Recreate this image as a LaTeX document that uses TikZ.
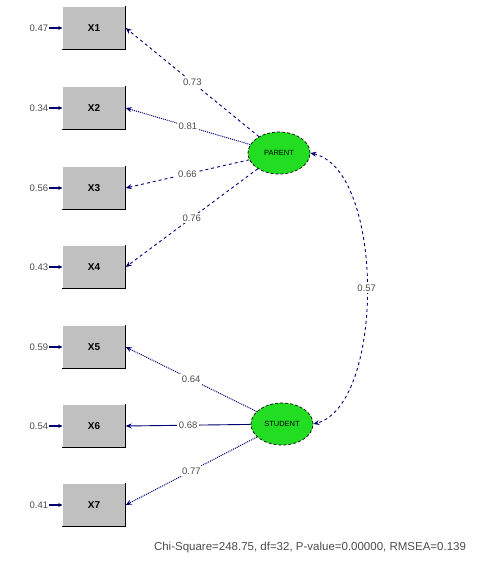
\documentclass[tikz,border=0pt]{standalone}
\usepackage{fontspec}
\setmainfont{Liberation Sans}
\usetikzlibrary{arrows.meta,shapes.geometric}
\definecolor{boxgray}{HTML}{C0C0C0}
\definecolor{latgreen}{HTML}{22DD22}
\definecolor{pathblue}{HTML}{000070}
\begin{document}
\begin{tikzpicture}[x=1pt,y=-1pt,
  obs/.style={rectangle, fill=boxgray, minimum width=63pt, minimum height=43pt, inner sep=0pt, font=\fontsize{10}{11}\selectfont\bfseries},
  lat/.style={ellipse, fill=latgreen, draw=black, densely dashed, line width=0.7pt, minimum width=62pt, minimum height=42pt, inner sep=0pt, font=\fontsize{7.5}{8}\selectfont},
  errlab/.style={font=\fontsize{9.5}{10}\selectfont, text=black!70, inner sep=1pt},
  errarr/.style={-{Stealth[length=4pt,width=4pt]}, draw=pathblue, line width=1.2pt},
  load/.style={-{Stealth[length=6pt,width=5pt]}, draw=pathblue, dashed, line width=0.9pt},
  loadd/.style={-{Stealth[length=6pt,width=5pt]}, draw=pathblue, densely dotted, line width=1pt},
  loads/.style={-{Stealth[length=6pt,width=5pt]}, draw=pathblue, line width=0.9pt},
  lab/.style={fill=white, font=\fontsize{9.5}{10}\selectfont, text=black!70, inner sep=2pt},
  cov/.style={{Stealth[length=6pt,width=5pt]}-{Stealth[length=6pt,width=5pt]}, draw=pathblue, dashed, line width=0.9pt},
  foot/.style={font=\fontsize{11.5}{13}\selectfont, text=black!70, inner sep=0pt}]
\useasboundingbox (0,0) rectangle (480,584);
% observed boxes
\foreach \i/\y/\t in {1/28/X1,2/108/X2,3/188/X3,4/267/X4,5/347/X5,6/426/X6,7/505/X7}{
  \node[obs] (b\i) at (94,\y) {\t};
  \draw[line width=1pt] (b\i.north east) -- (b\i.south east) -- (b\i.south west);
}
% error terms
\foreach \i/\v in {1/0.47,2/0.34,3/0.56,4/0.43,5/0.59,6/0.54,7/0.41}{
  \node[errlab, anchor=east] (e\i) at (b\i.west) [xshift=-13pt] {\v};
  \draw[errarr] (e\i.east) -- (b\i.west);
}
% latent variables
\node[lat] (L1) at (279,153) {PARENT};
\node[lat] (L2) at (282,424) {STUDENT};
% loadings
\draw[load] (L1) -- (b1.east) node[lab, pos=0.5] {0.73};
\draw[loadd] (L1) -- (b2.east) node[lab, pos=0.5] {0.81};
\draw[load] (L1) -- (b3.east) node[lab, pos=0.5] {0.66};
\draw[load] (L1) -- (b4.east) node[lab, pos=0.5] {0.76};
\draw[loadd] (L2) -- (b5.east) node[lab, pos=0.5] {0.64};
\draw[loads] (L2) -- (b6.east) node[lab, pos=0.5] {0.68};
\draw[loadd] (L2) -- (b7.east) node[lab, pos=0.5] {0.77};
% covariance
\draw[cov] (L1.east) .. controls (385,170) and (385,405) .. (L2.east) node[lab, pos=0.5] {0.57};
% fit statistics
\node[foot] (fit) at (310,548) {Chi-Square=248.75, df=32, P-value=0.00000, RMSEA=0.139};
\end{tikzpicture}
\end{document}
